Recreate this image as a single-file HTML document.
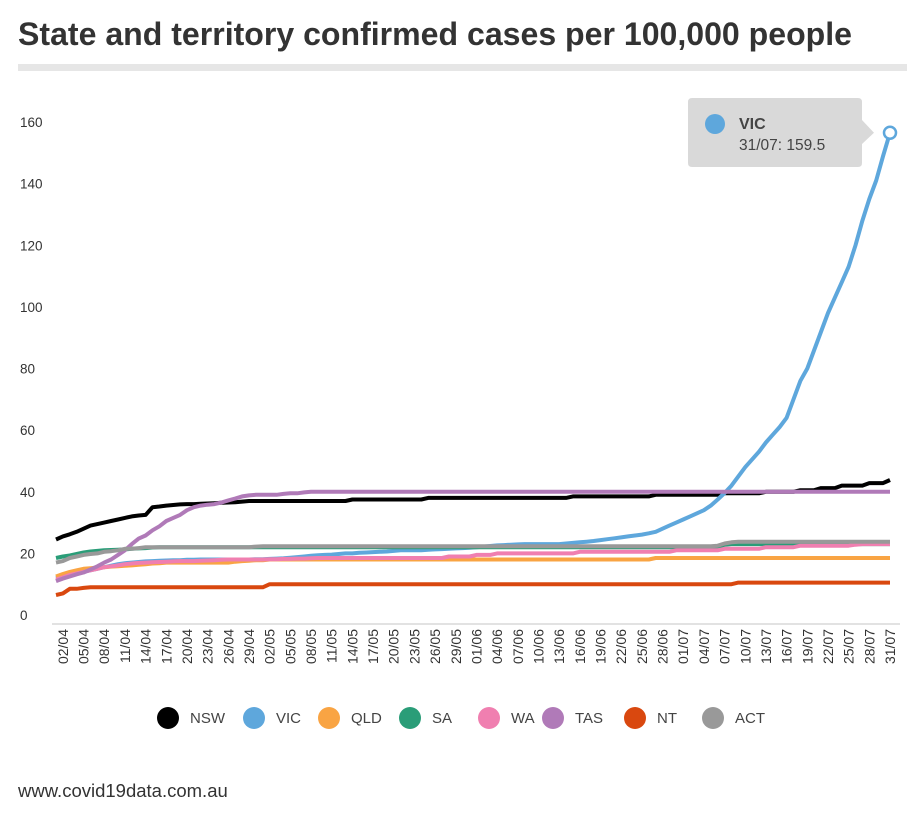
<!DOCTYPE html>
<html><head><meta charset="utf-8">
<style>
html,body{margin:0;padding:0;background:#fff;}
body{width:920px;height:819px;overflow:hidden;font-family:"Liberation Sans",sans-serif;}
</style></head>
<body>
<svg id="chart" width="920" height="819" xmlns="http://www.w3.org/2000/svg">
  <text x="18" y="45" font-size="32" font-weight="bold" fill="#333" textLength="834" lengthAdjust="spacingAndGlyphs" font-family="Liberation Sans, sans-serif">State and territory confirmed cases per 100,000 people</text>
  <rect x="18" y="64" width="889" height="7" fill="#e6e6e6"/>
  <g id="yaxis"></g>
  <g id="xaxis"></g>
  <g id="lines"></g>
  <g id="legend"></g>
  <text x="18" y="797" font-size="18.5" fill="#333">www.covid19data.com.au</text>
</svg>
<script>
const yTicks=[0,20,40,60,80,100,120,140,160];
const seriesNames=["NSW","VIC","QLD","SA","WA","TAS","NT","ACT"];
const seriesColors=["#000000","#5ea7dc","#f9a443","#2a9d78","#f07fb0","#b07ab8","#d9480f","#999999"];
const NSW=[24.5,25.5,26.2,27,28,29,29.5,30,30.5,31,31.5,32,32.3,32.5,35,35.2,35.5,35.7,35.9,36,36,36.1,36.2,36.3,36.4,36.5,36.6,36.8,37,37,
37,37,37,37,37,37,37,37,37,37,37,37,37,37.5,37.5,37.5,37.5,37.5,37.5,37.5,37.5,37.5,37.5,37.5,38,38,38,38,38,38,38,
38,38,38,38,38,38,38,38,38,38,38,38,38,38,38.5,38.5,38.5,38.5,38.5,38.5,38.5,38.5,38.5,38.5,38.5,38.5,39,39,39,39,
39,39,39,39,39,39,39.5,39.5,39.5,39.5,39.5,39.5,40,40,40,40,40,40.5,40.5,40.5,41.2,41.2,41.2,42,42,42,42,42.8,42.8,42.8,43.8];
const VIC=[12,12.5,13,13.5,14,14.5,15,15.5,16,16.5,16.8,17,17.2,17.4,17.5,17.6,17.7,17.8,17.8,17.9,17.9,18,18,18,18,18,18,18,18,18.1,
18.1,18.2,18.3,18.4,18.6,18.8,19,19.2,19.4,19.5,19.6,19.8,20,20,20.2,20.3,20.4,20.5,20.6,20.8,21,21,21,21,21.2,21.3,21.4,21.5,21.6,21.7,21.8,
22,22.2,22.4,22.6,22.7,22.8,22.9,23,23,23,23,23,23,23.2,23.4,23.6,23.8,24,24.3,24.6,24.9,25.2,25.5,25.8,26.1,26.5,27,28,29,30,
31,32,33,34,35.5,37.5,39.6,42,45,48,50.5,53,56,58.5,61,64,70,76,80,86,92,98,103,108,113,120,128,135,141,149,156.5];
const tooltipValue=159.5;
const QLD=[12.5,13.3,14,14.5,15,15.2,15.4,15.5,15.7,15.8,16,16.1,16.3,16.5,16.7,16.8,17,17,17,17,17,17,17,17,17,17,17.3,17.5,17.6,17.8,
17.8,18,18,18,18,18,18,18,18,18,18,18,18,18,18,18,18,18,18,18,18,18,18,18,18,18,18,18,18,18,18,
18,18,18,18,18,18,18,18,18,18,18,18,18,18,18,18,18,18,18,18,18,18,18,18,18,18,18.5,18.5,18.5,18.5,
18.5,18.5,18.5,18.5,18.5,18.5,18.5,18.5,18.5,18.5,18.5,18.5,18.5,18.5,18.5,18.5,18.5,18.5,18.5,18.5,18.5,18.5,18.5,18.5,18.5,18.5,18.5,18.5,18.5,18.5,18.5];
const SA=[18.5,19,19.3,19.8,20.3,20.6,20.8,21,21.1,21.2,21.3,21.5,21.6,21.7,21.9,22,22,22,22,22,22,22,22,22,22,22,22,22,22,22,
22,22,22,22,22,22,22,22,22,22,22,22,22,22,22,22,22,22,22,22,22,22,22,22,22,22,22,22,22,22,22,
22,22,22,22,22,22,22,22,22,22,22,22,22,22,22,22,22,22,22,22,22,22,22,22,22,22,22,22,22,22,
22,22,22,22,22,22,22.8,23,23,23,23,23,23,23,23,23,23,23,23,23,23,23,23,23,23,23,23,23,23,23,23];
const WA=[11.5,12.2,13,13.5,14,14.5,15,15.5,15.8,16.1,16.5,16.7,16.9,17,17.1,17.2,17.3,17.4,17.5,17.5,17.5,17.6,17.7,17.8,17.9,18,18,18,18,18,
18,18.1,18.1,18.2,18.2,18.3,18.3,18.4,18.5,18.5,18.5,18.5,18.5,18.5,18.5,18.5,18.5,18.5,18.5,18.5,18.5,18.5,18.5,18.5,18.5,18.5,18.5,19,19,19,19,
19.5,19.5,19.5,20,20,20,20,20,20,20,20,20,20,20,20,20.5,20.5,20.5,20.5,20.5,20.5,20.5,20.5,20.5,20.5,20.5,20.5,20.5,20.5,21,
21,21,21,21,21,21,21.5,21.5,21.5,21.5,21.5,21.5,22,22,22,22,22,22.5,22.5,22.5,22.5,22.5,22.5,22.5,22.5,22.8,23,23,23,23,23];
const TAS=[11,11.8,12.5,13.2,13.8,14.8,15.8,17,18,19.5,21,23,24.8,25.8,27.5,28.8,30.5,31.5,32.5,34,35,35.5,35.8,36,36.5,37.2,37.8,38.5,38.8,39,
39,39,39,39.3,39.5,39.5,39.8,40,40,40,40,40,40,40,40,40,40,40,40,40,40,40,40,40,40,40,40,40,40,40,40,
40,40,40,40,40,40,40,40,40,40,40,40,40,40,40,40,40,40,40,40,40,40,40,40,40,40,40,40,40,40,
40,40,40,40,40,40,40,40,40,40,40,40,40,40,40,40,40,40,40,40,40,40,40,40,40,40,40,40,40,40,40];
const NT=[6.5,7,8.5,8.5,8.8,9,9,9,9,9,9,9,9,9,9,9,9,9,9,9,9,9,9,9,9,9,9,9,9,9,
9,10,10,10,10,10,10,10,10,10,10,10,10,10,10,10,10,10,10,10,10,10,10,10,10,10,10,10,10,10,10,
10,10,10,10,10,10,10,10,10,10,10,10,10,10,10,10,10,10,10,10,10,10,10,10,10,10,10,10,10,10,
10,10,10,10,10,10,10,10,10.5,10.5,10.5,10.5,10.5,10.5,10.5,10.5,10.5,10.5,10.5,10.5,10.5,10.5,10.5,10.5,10.5,10.5,10.5,10.5,10.5,10.5,10.5];
const ACT=[17,17.5,18.5,19,19.5,19.8,20,20.5,20.7,21,21.5,21.5,21.7,22,22,22,22,22,22,22,22,22,22,22,22,22,22,22,22,22.2,
22.3,22.3,22.3,22.3,22.3,22.3,22.3,22.3,22.3,22.3,22.3,22.3,22.3,22.3,22.3,22.3,22.3,22.3,22.3,22.3,22.3,22.3,22.3,22.3,22.3,22.3,22.3,22.3,22.3,22.3,22.3,
22.3,22.3,22.3,22.3,22.3,22.3,22.3,22.3,22.3,22.3,22.3,22.3,22.3,22.3,22.3,22.3,22.3,22.3,22.3,22.3,22.3,22.3,22.3,22.3,22.3,22.3,22.3,22.3,22.3,22.3,
22.3,22.3,22.3,22.3,22.3,22.5,23.2,23.6,23.8,23.8,23.8,23.8,23.8,23.8,23.8,23.8,23.8,23.8,23.8,23.8,23.8,23.8,23.8,23.8,23.8,23.8,23.8,23.8,23.8,23.8,23.8];
const seriesData=[NSW,VIC,QLD,SA,WA,TAS,NT,ACT];
const legendX=[168,254,329,410,489,553,635,713];

const NS="http://www.w3.org/2000/svg";
const N=122;
function xScale(i){return 56+i*(834/121);}
function yScale(v){return 615-v*(493/160);}
function mk(tag,attrs,parent){const e=document.createElementNS(NS,tag);for(const k in attrs)e.setAttribute(k,attrs[k]);parent.appendChild(e);return e;}
function dateLabel(i){const m=[30,31,30,31];let mo=4,d=i+1;let k=0;while(d>m[k]){d-=m[k];k++;mo++;}return String(d).padStart(2,'0')+'/'+String(mo).padStart(2,'0');}

const yg=document.getElementById('yaxis');
yTicks.forEach(t=>{
  const tx=mk('text',{x:20,y:yScale(t)+5,'font-size':13.5,fill:'#333'},yg);
  
  
  tx.textContent=t;
});
const base=mk('line',{x1:52,x2:900,y1:624,y2:624,stroke:'#d8d8d8','stroke-width':1.5},yg);



const xg=document.getElementById('xaxis');
for(let i=1;i<N;i+=3){
  const x=xScale(i)+5;
  const tx=mk('text',{x:x,y:629,'font-size':14,fill:'#333','text-anchor':'end',transform:`rotate(-90 ${x} 629)`},xg);
  
  
  tx.textContent=dateLabel(i);
}

const lg=document.getElementById('lines');
seriesData.forEach((arr,s)=>{
  let d='';
  arr.forEach((v,i)=>{if(i<N)d+=(i?'L':'M')+xScale(i).toFixed(1)+','+yScale(v).toFixed(1);});
  const p=mk('path',{d:d,fill:'none',stroke:seriesColors[s],'stroke-width':4,'stroke-linejoin':'round'},lg);
  
  
});
const li=VIC.length-1;
const mx=xScale(li),my=yScale(VIC[li]);
const tip=mk('g',{},lg);


mk('path',{d:`M692,98 H858 Q862,98 862,102 V120 L874,${my} L862,144 V163 Q862,167 858,167 H692 Q688,167 688,163 V102 Q688,98 692,98 Z`,fill:'#d9d9d9'},tip);
mk('circle',{cx:715,cy:124,r:10,fill:'#5ea7dc'},tip);
const t1=mk('text',{x:739,y:129,'font-size':16,'font-weight':'bold',fill:'#444'},tip);t1.textContent='VIC';
const t2=mk('text',{x:739,y:150,'font-size':15.5,fill:'#444'},tip);t2.textContent=dateLabel(li)+': '+tooltipValue;
const mark=mk('circle',{cx:mx,cy:my,r:6,fill:'#fff',stroke:'#5ea7dc','stroke-width':2.5},lg);



const lgd=document.getElementById('legend');
seriesNames.forEach((n,s)=>{
  const g=mk('g',{},lgd);
  
  
  mk('circle',{cx:legendX[s],cy:718,r:11,fill:seriesColors[s]},g);
  const t=mk('text',{x:legendX[s]+22,y:723,'font-size':15,fill:'#444'},g);
  t.textContent=n;
});
</script>
</body></html>
